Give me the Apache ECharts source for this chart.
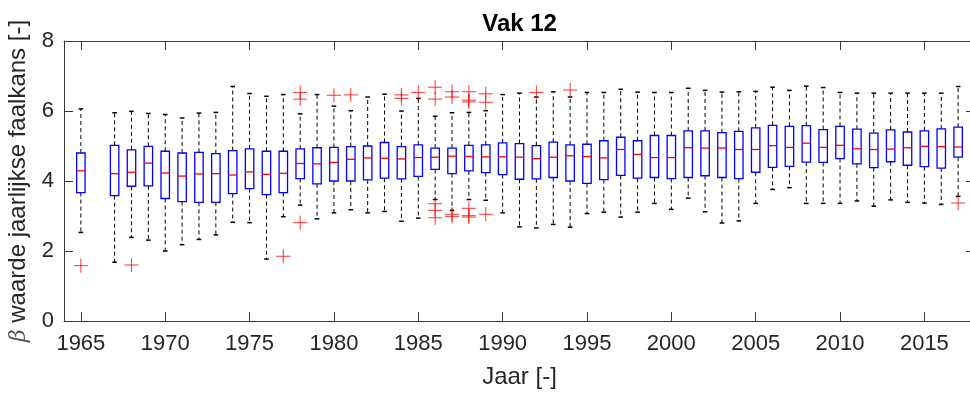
<!DOCTYPE html>
<html>
<head>
<meta charset="utf-8">
<title>Vak 12</title>
<script src="https://cdn.jsdelivr.net/npm/echarts@6/dist/echarts.min.js"></script>
<style>
  html, body { margin: 0; padding: 0; background: #fff; }
  #chart { width: 970px; height: 394px; }
</style>
</head>
<body>
<div id="chart"></div>
<script>
// Yearly boxplots of the annual failure-probability beta value
const years = [1965, 1967, 1968, 1969, 1970, 1971, 1972, 1973, 1974, 1975, 1976, 1977, 1978, 1979,
  1980, 1981, 1982, 1983, 1984, 1985, 1986, 1987, 1988, 1989, 1990, 1991, 1992, 1993, 1994, 1995,
  1996, 1997, 1998, 1999, 2000, 2001, 2002, 2003, 2004, 2005, 2006, 2007, 2008, 2009, 2010, 2011,
  2012, 2013, 2014, 2015, 2016, 2017];
const lowerWhisker = [2.53, 1.68, 2.39, 2.31, 2.00, 2.18, 2.33, 2.46, 2.82, 2.81, 1.77, 2.98, 3.31, 2.92,
  3.09, 3.18, 3.09, 3.13, 2.85, 2.94, 3.47, 3.16, 3.47, 3.45, 3.09, 2.69, 2.66, 2.76, 2.68, 3.07,
  3.11, 2.97, 3.11, 3.36, 3.19, 3.51, 3.12, 2.80, 2.86, 3.36, 3.76, 3.81, 3.36, 3.36, 3.36, 3.43,
  3.28, 3.46, 3.39, 3.37, 3.33, 3.56];
const lowerQuartile = [3.67, 3.58, 3.85, 3.86, 3.50, 3.41, 3.39, 3.39, 3.64, 3.78, 3.61, 3.67, 4.07, 3.92,
  4.00, 4.00, 4.03, 4.08, 4.06, 4.13, 4.33, 4.21, 4.29, 4.24, 4.18, 4.05, 4.06, 4.10, 4.00, 3.93,
  4.04, 4.16, 4.08, 4.10, 4.07, 4.10, 4.15, 4.10, 4.07, 4.25, 4.39, 4.42, 4.54, 4.53, 4.64, 4.49,
  4.38, 4.55, 4.45, 4.41, 4.37, 4.68];
const medians = [4.29, 4.21, 4.25, 4.51, 4.23, 4.14, 4.20, 4.21, 4.17, 4.26, 4.19, 4.22, 4.50, 4.49,
  4.53, 4.62, 4.66, 4.65, 4.63, 4.67, 4.68, 4.71, 4.70, 4.69, 4.69, 4.68, 4.64, 4.68, 4.72, 4.70,
  4.66, 4.90, 4.76, 4.67, 4.67, 4.95, 4.94, 4.94, 4.90, 4.90, 5.01, 4.96, 5.08, 4.96, 5.02, 4.92,
  4.90, 4.91, 4.95, 4.99, 4.98, 4.97];
const upperQuartile = [4.80, 5.02, 4.89, 4.99, 4.85, 4.80, 4.82, 4.78, 4.87, 4.92, 4.85, 4.85, 4.92, 4.95,
  4.96, 4.98, 5.00, 5.10, 4.98, 5.03, 4.94, 4.94, 5.02, 5.03, 5.09, 5.07, 5.01, 5.11, 5.03, 5.05,
  5.15, 5.25, 5.15, 5.30, 5.30, 5.43, 5.43, 5.38, 5.42, 5.52, 5.59, 5.56, 5.58, 5.47, 5.56, 5.48,
  5.37, 5.46, 5.40, 5.43, 5.49, 5.54];
const upperWhisker = [6.06, 5.95, 5.99, 5.93, 5.90, 5.80, 5.94, 5.96, 6.70, 6.50, 6.42, 6.47, 5.92, 6.47,
  6.14, 6.01, 6.40, 6.48, 6.00, 6.36, 5.85, 5.95, 5.96, 6.01, 6.47, 6.51, 6.40, 6.55, 6.40, 6.53,
  6.53, 6.62, 6.54, 6.53, 6.53, 6.65, 6.59, 6.54, 6.55, 6.56, 6.68, 6.59, 6.71, 6.67, 6.53, 6.51,
  6.51, 6.51, 6.51, 6.51, 6.51, 6.70];

// Outliers (year, value)
const outlierYears = [1965, 1968, 1977, 1978, 1978, 1978, 1980, 1981, 1984, 1984, 1985,
  1986, 1986, 1986, 1986, 1986, 1987, 1987, 1987, 1987,
  1988, 1988, 1988, 1988, 1988, 1988, 1989, 1989, 1989, 1992, 1994, 2017];
const outlierValues = [1.58, 1.60, 1.85, 6.53, 6.34, 2.81, 6.45, 6.46, 6.46, 6.36, 6.53,
  6.68, 6.34, 3.35, 3.16, 2.95, 6.55, 6.40, 3.05, 2.99,
  6.55, 6.31, 6.26, 3.22, 3.01, 2.97, 6.49, 6.25, 3.05, 6.53, 6.60, 3.37];

const yearTicks = [1965, 1970, 1975, 1980, 1985, 1990, 1995, 2000, 2005, 2010, 2015];

const boxData = years.map((y, i) => [y, lowerWhisker[i], lowerQuartile[i], medians[i], upperQuartile[i], upperWhisker[i]]);
const outlierData = outlierYears.map((y, i) => [y, outlierValues[i]]);

const FONT = '"Liberation Sans", Arial, Helvetica, sans-serif';
const AXIS_COLOR = '#3a3a3a';
const TEXT_COLOR = '#262626';

function renderBox(params, api) {
  const x = api.value(0);
  const pLo = api.coord([x, api.value(1)]);
  const pQ1 = api.coord([x, api.value(2)]);
  const pMed = api.coord([x, api.value(3)]);
  const pQ3 = api.coord([x, api.value(4)]);
  const pHi = api.coord([x, api.value(5)]);
  const half = api.size([0.5, 0])[0] / 2;
  const cap = 2.3;
  const cx = pQ1[0];
  const dashed = { stroke: '#000', lineWidth: 1, lineDash: [4, 3] };
  const solid = { stroke: '#000', lineWidth: 1.5 };
  return {
    type: 'group',
    children: [
      { type: 'line', shape: { x1: cx, y1: pQ3[1], x2: cx, y2: pHi[1] }, style: dashed },
      { type: 'line', shape: { x1: cx, y1: pQ1[1], x2: cx, y2: pLo[1] }, style: dashed },
      { type: 'line', shape: { x1: cx - cap, y1: pHi[1], x2: cx + cap, y2: pHi[1] }, style: solid },
      { type: 'line', shape: { x1: cx - cap, y1: pLo[1], x2: cx + cap, y2: pLo[1] }, style: solid },
      { type: 'rect', shape: { x: cx - half, y: pQ3[1], width: 2 * half, height: pQ1[1] - pQ3[1] },
        style: { fill: 'none', stroke: '#0000ff', lineWidth: 1.3 } },
      { type: 'line', shape: { x1: cx - half, y1: pMed[1], x2: cx + half, y2: pMed[1] },
        style: { stroke: '#ff0000', lineWidth: 1.3 } }
    ]
  };
}

function renderOutlier(params, api) {
  const p = api.coord([api.value(0), api.value(1)]);
  const r = 7;
  const st = { stroke: 'rgba(255,0,0,0.8)', lineWidth: 1 };
  return {
    type: 'group',
    children: [
      { type: 'line', shape: { x1: p[0] - r, y1: p[1], x2: p[0] + r, y2: p[1] }, style: st },
      { type: 'line', shape: { x1: p[0], y1: p[1] - r, x2: p[0], y2: p[1] + r }, style: st }
    ]
  };
}

const chart = echarts.init(document.getElementById('chart'), null, { renderer: 'canvas' });

const xCommon = {
  type: 'value', min: 1964, max: 2018,
  axisLine: { show: true, onZero: false, lineStyle: { color: AXIS_COLOR, width: 1 } },
  splitLine: { show: false }
};
const yCommon = {
  type: 'value', min: 0, max: 8, interval: 2,
  axisLine: { show: true, onZero: false, lineStyle: { color: AXIS_COLOR, width: 1 } },
  splitLine: { show: false }
};

chart.setOption({
  animation: false,
  backgroundColor: '#fff',
  grid: { left: 64, top: 41, right: -5, bottom: 73, containLabel: false, outerBoundsMode: 'none' },
  graphic: [
    { type: 'text', x: 519.6, y: 12,
      style: { text: 'Vak 12', font: 'bold 24px ' + FONT, fill: '#000', textAlign: 'center', textVerticalAlign: 'top' } }
  ],
  xAxis: [
    Object.assign({}, xCommon, {
      position: 'bottom',
      name: 'Jaar [-]', nameLocation: 'middle', nameGap: 44,
      nameTextStyle: { fontFamily: FONT, fontSize: 24, color: TEXT_COLOR },
      axisTick: { show: true, inside: true, length: 9, customValues: yearTicks, lineStyle: { color: AXIS_COLOR } },
      axisLabel: { show: true, customValues: yearTicks, margin: 12, fontFamily: FONT, fontSize: 22, color: TEXT_COLOR,
        formatter: (v) => String(v) }
    }),
    Object.assign({}, xCommon, {
      position: 'top',
      axisTick: { show: true, inside: true, length: 9, customValues: yearTicks, lineStyle: { color: AXIS_COLOR } },
      axisLabel: { show: false }
    })
  ],
  yAxis: [
    Object.assign({}, yCommon, {
      position: 'left',
      name: '{b|β} waarde jaarlijkse faalkans [-]', nameLocation: 'middle', nameGap: 30,
      nameTextStyle: {
        fontFamily: FONT, fontSize: 24, color: TEXT_COLOR,
        rich: { b: { fontFamily: '"DejaVu Serif", "Liberation Serif", serif', fontStyle: 'italic', fontSize: 22, color: '#555' } }
      },
      axisTick: { show: true, inside: true, length: 9, lineStyle: { color: AXIS_COLOR } },
      axisLabel: { show: true, margin: 10, fontFamily: FONT, fontSize: 22, color: TEXT_COLOR }
    }),
    Object.assign({}, yCommon, {
      position: 'right',
      axisTick: { show: true, inside: true, length: 9, lineStyle: { color: AXIS_COLOR } },
      axisLabel: { show: false }
    })
  ],
  series: [
    {
      type: 'custom', name: 'box', xAxisIndex: 0, yAxisIndex: 0,
      renderItem: renderBox,
      encode: { x: 0, y: [1, 2, 3, 4, 5] },
      data: boxData, z: 3
    },
    {
      type: 'custom', name: 'outliers', xAxisIndex: 0, yAxisIndex: 0,
      renderItem: renderOutlier,
      encode: { x: 0, y: 1 },
      data: outlierData, z: 4
    }
  ]
});
</script>
</body>
</html>
